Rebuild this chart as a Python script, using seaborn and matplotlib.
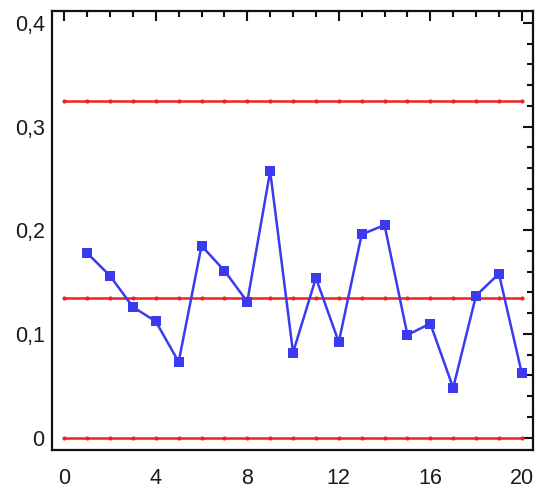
import matplotlib
matplotlib.use("Agg")
import matplotlib.pyplot as plt
import seaborn as sns
import pandas as pd
import numpy as np
from matplotlib.ticker import MultipleLocator, FuncFormatter

# Data
samples = list(range(1, 21))
proportions = [0.178, 0.156, 0.126, 0.112, 0.073, 0.185, 0.161, 0.131, 0.257, 0.082,
               0.154, 0.092, 0.196, 0.205, 0.099, 0.110, 0.048, 0.137, 0.158, 0.062]
limit_x = list(range(0, 21))
ucl_value = 0.325
center_value = 0.135
lcl_value = 0.0

sns.set_theme(style="white")
plt.rcParams['font.family'] = ['Liberation Sans', 'DejaVu Sans']

fig = plt.figure(figsize=(5.43, 5.03), dpi=100)
ax = fig.add_axes([0.0952, 0.1054, 0.8864, 0.8737])

limits = pd.DataFrame({
    "x": limit_x * 3,
    "y": [ucl_value] * len(limit_x) + [center_value] * len(limit_x) + [lcl_value] * len(limit_x),
    "line": ["UCL"] * len(limit_x) + ["CL"] * len(limit_x) + ["LCL"] * len(limit_x),
})
sns.lineplot(data=limits, x="x", y="y", units="line", estimator=None, color="#ee2222",
             linewidth=1.8, marker="o", markersize=3, markeredgewidth=0, ax=ax)

df = pd.DataFrame({"x": samples, "y": proportions})
sns.lineplot(data=df, x="x", y="y", color="#3a3aee", linewidth=1.8, marker="s",
             markersize=6.5, markeredgewidth=0, ax=ax)

ax.set_xlim(-0.55, 20.49)
ax.set_ylim(-0.012, 0.412)
ax.set_xlabel("")
ax.set_ylabel("")
ax.xaxis.set_major_locator(MultipleLocator(4))
ax.xaxis.set_minor_locator(MultipleLocator(1))
ax.yaxis.set_major_locator(MultipleLocator(0.1))
ax.yaxis.set_minor_locator(MultipleLocator(0.02))

def comma_fmt(v, pos):
    if abs(v) < 1e-9:
        return "0"
    return f"{v:.1f}".replace(".", ",")

ax.yaxis.set_major_formatter(FuncFormatter(comma_fmt))
ax.xaxis.set_major_formatter(FuncFormatter(lambda v, p: f"{int(round(v))}"))

for sp in ax.spines.values():
    sp.set_color("#111111")
    sp.set_linewidth(1.6)

ax.tick_params(which="both", direction="in", top=True, right=True, color="#111111",
               width=1.5, labelsize=15.5, labelcolor="#1a1a1a")
ax.tick_params(which="major", length=7.5)
ax.tick_params(which="minor", length=4)
ax.tick_params(axis="x", which="major", pad=13)
ax.tick_params(axis="y", which="major", pad=5)
ax.grid(False)

fig.savefig("out.png", dpi=100)
